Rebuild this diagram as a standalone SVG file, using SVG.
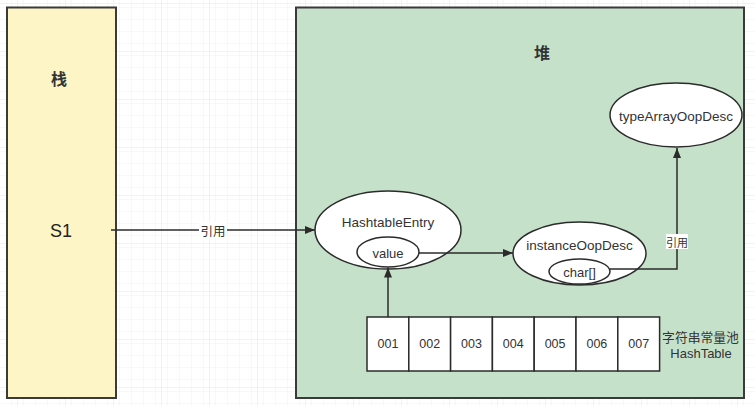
<svg xmlns="http://www.w3.org/2000/svg" width="755" height="406" viewBox="0 0 755 406">
  <defs>
    <pattern id="grid-minor" x="6" y="4" width="12" height="12" patternUnits="userSpaceOnUse">
      <path d="M12 0 V12 M0 12 H12" fill="none" stroke="#f0f0f0" stroke-width="1"/>
    </pattern>
    <pattern id="grid-major" x="18" y="4" width="48" height="48" patternUnits="userSpaceOnUse">
      <rect width="48" height="48" fill="url(#grid-minor)"/>
      <path d="M48 0 V48 M0 48 H48" fill="none" stroke="#e4e4e4" stroke-width="1"/>
    </pattern>
    <marker id="arrow" viewBox="0 0 10 10" refX="10" refY="5" markerWidth="10" markerHeight="10" markerUnits="userSpaceOnUse" orient="auto">
      <path d="M0 1 L10 5 L0 9 Z" fill="#2b2b2b"/>
    </marker>
  </defs>
  <style>
    .box { stroke: #3a3a3a; stroke-width: 2; }
    .shape { fill: #ffffff; stroke: #2b2b2b; stroke-width: 1.5; }
    .edge { fill: none; stroke: #2b2b2b; stroke-width: 1.5; }
    .lat { font-family: "Liberation Sans", Arial, sans-serif; fill: #333333; text-anchor: middle; dominant-baseline: central; }
    .cjk { font-family: "Noto Sans CJK SC", "Noto Sans", sans-serif; fill: #333333; text-anchor: middle; dominant-baseline: central; }
    .title { font-size: 16px; font-weight: bold; }
  </style>

  <!-- canvas background -->
  <rect width="755" height="406" fill="#ffffff"/>
  <rect width="755" height="406" fill="url(#grid-major)"/>

  <!-- stack area -->
  <g id="stack">
    <rect class="box" x="7" y="7.5" width="109" height="390.5" fill="#fdf5c6"/>
    <text class="cjk title" x="59" y="78">栈</text>
    <text class="lat" x="61" y="231" font-size="18" fill="#222222" style="fill:#222222">S1</text>
  </g>

  <!-- heap area -->
  <g id="heap">
    <rect class="box" x="296" y="7.5" width="448" height="390.5" fill="#c6e1ca"/>
    <text class="cjk title" x="542" y="52">堆</text>
  </g>

  <g id="hashtable-entry">
    <ellipse class="shape" cx="388" cy="230" rx="73" ry="39"/>
    <text class="lat" x="388" y="222" font-size="13.5">HashtableEntry</text>
    <ellipse class="shape" cx="388" cy="252" rx="31" ry="15"/>
    <text class="lat" x="388" y="253" font-size="13">value</text>
  </g>

  <g id="instance-oop-desc">
    <ellipse class="shape" cx="579.5" cy="253.5" rx="66.5" ry="31.5"/>
    <text class="lat" x="579.5" y="245" font-size="13.5">instanceOopDesc</text>
    <ellipse class="shape" cx="579.5" cy="271.5" rx="30.5" ry="12.5"/>
    <text class="lat" x="579.5" y="272" font-size="13">char[]</text>
  </g>

  <g id="type-array-oop-desc">
    <ellipse class="shape" cx="676" cy="115" rx="66" ry="32"/>
    <text class="lat" x="676" y="116" font-size="13.5">typeArrayOopDesc</text>
  </g>

  <g id="string-table">
    <rect class="shape" x="367" y="317" width="41.8" height="54"/>
    <rect class="shape" x="408.8" y="317" width="41.8" height="54"/>
    <rect class="shape" x="450.6" y="317" width="41.8" height="54"/>
    <rect class="shape" x="492.4" y="317" width="41.8" height="54"/>
    <rect class="shape" x="534.2" y="317" width="41.8" height="54"/>
    <rect class="shape" x="576" y="317" width="41.8" height="54"/>
    <rect class="shape" x="617.8" y="317" width="41.8" height="54"/>
    <g class="lat" font-size="12.5">
      <text x="388" y="344">001</text>
      <text x="429.7" y="344">002</text>
      <text x="471.5" y="344">003</text>
      <text x="513.3" y="344">004</text>
      <text x="555.1" y="344">005</text>
      <text x="596.9" y="344">006</text>
      <text x="638.7" y="344">007</text>
    </g>
    <text class="cjk" x="700.5" y="336" font-size="12.8">字符串常量池</text>
    <text class="lat" x="701" y="353" font-size="13">HashTable</text>
  </g>

  <!-- connectors -->
  <g id="connectors">
    <line class="edge" x1="111" y1="230" x2="315" y2="230" marker-end="url(#arrow)"/>
    <line class="edge" x1="419" y1="253" x2="513" y2="253" marker-end="url(#arrow)"/>
    <polyline class="edge" points="610,269 677,269 677,148" marker-end="url(#arrow)"/>
    <line class="edge" x1="388" y1="317" x2="388" y2="267.5" marker-end="url(#arrow)"/>
    <!-- edge labels -->
    <rect x="199" y="222" width="28" height="16" fill="#ffffff"/>
    <text class="cjk" x="213" y="230" font-size="12.5">引用</text>
    <rect x="666" y="234" width="22" height="15" fill="#ffffff"/>
    <text class="cjk" x="677" y="241.5" font-size="11">引用</text>
  </g>
</svg>
